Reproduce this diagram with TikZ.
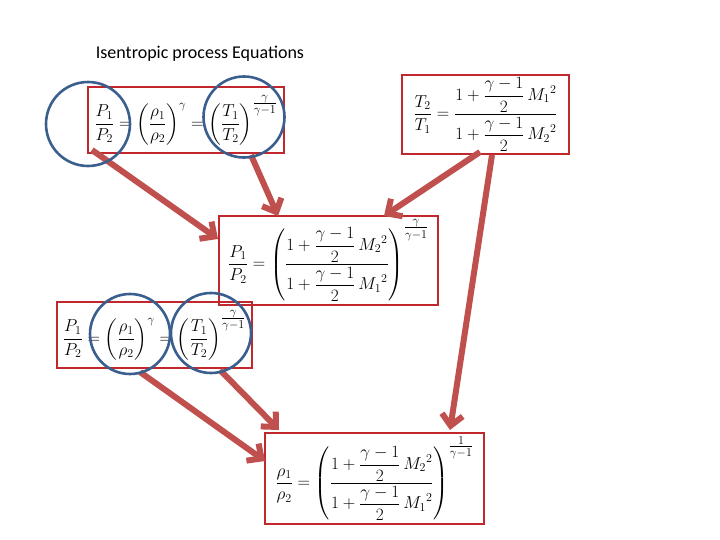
\documentclass[tikz,border=0pt]{standalone}
\usepackage{fontspec}
\setmainfont{Carlito}
\usepackage{amsmath}
\usetikzlibrary{arrows.meta}
\definecolor{boxred}{HTML}{C0282D}
\definecolor{arrred}{HTML}{C0504D}
\definecolor{circblue}{HTML}{3A5F8E}
\newcommand{\expfrac}[2]{\genfrac{}{}{}{1}{#1}{#2}}
\tikzset{
  eqbox/.style={draw=boxred, line width=1.3pt, inner sep=0pt, font=\fontsize{18}{21}\selectfont},
  ring/.style={draw=circblue, line width=2.6pt, circle, inner sep=0pt},
  bigarrow/.style={draw=arrred, line width=6pt, -{Straight Barb[length=11pt,width=21pt,line width=6pt]}},
}
\begin{document}
\begin{tikzpicture}[x=1pt,y=-1pt]
\useasboundingbox (0,0) rectangle (720,540);
\node[font=\fontsize{18}{21}\selectfont] (title) at (200,54) {Isentropic process Equations};
% boxes
\node[eqbox, minimum width=196pt, minimum height=66pt] (A) at (186,120)
  {$\displaystyle \frac{P_1}{P_2}=\left(\frac{\rho_1}{\rho_2}\right)^{\gamma}=\left(\frac{T_1}{T_2}\right)^{\expfrac{\gamma}{\gamma-1}}$};
\node[eqbox, minimum width=167pt, minimum height=79pt] (B) at (485.5,114.5)
  {$\displaystyle \frac{T_2}{T_1}=\frac{1+\dfrac{\gamma-1}{2}\,{M_1}^2}{1+\dfrac{\gamma-1}{2}\,{M_2}^2}$};
\node[eqbox, minimum width=219pt, minimum height=89pt] (C) at (328.5,260.5)
  {$\displaystyle \frac{P_1}{P_2}=\left(\frac{1+\dfrac{\gamma-1}{2}\,{M_2}^2}{1+\dfrac{\gamma-1}{2}\,{M_1}^2}\right)^{\expfrac{\gamma}{\gamma-1}}$};
\node[eqbox, minimum width=195pt, minimum height=66pt] (D) at (154.5,335)
  {$\displaystyle \frac{P_1}{P_2}=\left(\frac{\rho_1}{\rho_2}\right)^{\gamma}=\left(\frac{T_1}{T_2}\right)^{\expfrac{\gamma}{\gamma-1}}$};
\node[eqbox, minimum width=219pt, minimum height=91pt] (E) at (374.5,478.5)
  {$\displaystyle \frac{\rho_1}{\rho_2}=\left(\frac{1+\dfrac{\gamma-1}{2}\,{M_2}^2}{1+\dfrac{\gamma-1}{2}\,{M_1}^2}\right)^{\expfrac{1}{\gamma-1}}$};
% arrow end points
\coordinate (a1s) at (92,150);  \coordinate (a1e) at (218,239);
\coordinate (a2s) at (251,155); \coordinate (a2e) at (278,216);
\coordinate (a3s) at (480,152); \coordinate (a3e) at (384,216);
\coordinate (a4s) at (492,155); \coordinate (a4e) at (450,430);
\coordinate (a5s) at (140,372); \coordinate (a5e) at (265,461);
\coordinate (a6s) at (220,370); \coordinate (a6e) at (279,430);
\draw[bigarrow] (a1s) -- (a1e);
\draw[bigarrow] (a2s) -- (a2e);
\draw[bigarrow] (a3s) -- (a3e);
\draw[bigarrow] (a4s) -- (a4e);
\draw[bigarrow] (a5s) -- (a5e);
\draw[bigarrow] (a6s) -- (a6e);
% circles
\node[ring, minimum size=84pt] (c1) at (88,124) {};
\node[ring, minimum size=81pt] (c2) at (244,117) {};
\node[ring, minimum size=80pt] (c3) at (130,334) {};
\node[ring, minimum size=80pt] (c4) at (211,333) {};
\end{tikzpicture}
\end{document}
